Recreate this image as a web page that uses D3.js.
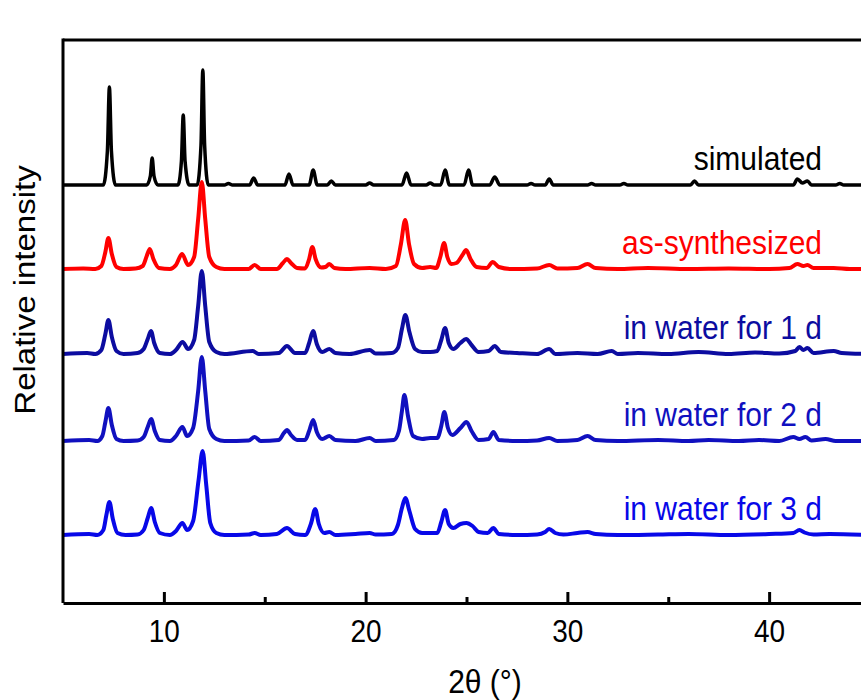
<!DOCTYPE html>
<html>
<head>
<meta charset="utf-8">
<script src="https://cdn.jsdelivr.net/npm/d3@7"></script>
<style>
  body { margin: 0; background: #fff; }
  svg text { font-family: "Liberation Sans", Arial, sans-serif; }
</style>
</head>
<body>
<div id="chart"></div>
<script>
// 2-theta (deg), intensity above each trace's own baseline (arbitrary units)
const simulated = [
  [5.0,0],[6.5,0],[7.0,0],[7.2,34],[7.3,98],[7.4,34],[7.6,0],
  [9.15,0],[9.33,9],[9.42,27],[9.51,9],[9.7,0],
  [10.7,0],[10.87,24],[10.96,70],[11.05,24],[11.25,0],
  [11.65,0],[11.84,40],[11.93,115],[12.02,40],[12.2,0],
  [13.0,0],[13.2,1.5],[13.4,0],[14.25,0],[14.45,7],[14.65,0],
  [16.0,0],[16.2,11],[16.4,0],[17.2,0],[17.4,15],[17.6,0],
  [18.1,0],[18.3,4],[18.5,0],[20.0,0],[20.2,2],[20.4,0],
  [21.8,0],[22.03,12],[22.25,0],[23.0,0],[23.2,2],[23.4,0],
  [23.72,0],[23.94,15],[24.15,0],[24.88,0],[25.1,15],[25.3,0],
  [26.15,0],[26.4,8],[26.65,0],[28.0,0],[28.2,1.5],[28.4,0],
  [28.9,0],[29.1,6],[29.3,0],[31.0,0],[31.2,1.5],[31.4,0],
  [32.6,0],[32.8,1.5],[33.0,0],[36.1,0],[36.3,4],[36.5,0],
  [41.2,0],[41.4,6],[41.65,2],[41.9,4],[42.1,0],[43.3,0],[43.5,1.5],[43.7,0],[45,0]
];
const asSynthesized = [
  [5.0,0],[6.0,0.5],[6.6,0],[6.9,3],[7.1,17],[7.25,31],[7.42,15],[7.65,2],[8.0,0],
  [8.6,0.5],[8.95,3],[9.15,13],[9.3,20],[9.48,10],[9.75,1],[10.3,0],[10.6,4],[10.9,15],
  [11.2,4],[11.5,12],[11.7,50],[11.88,87],[12.05,50],[12.25,12],[12.6,2],[13.0,0],
  [14.2,0],[14.5,4],[14.8,0],[15.6,0],[15.9,6],[16.1,10],[16.3,6],[16.6,1],[17.0,0.5],
  [17.2,10],[17.36,22],[17.52,10],[17.8,1.5],[18.0,2],[18.2,5],[18.45,1],[19.0,0],
  [20.2,1],[21.0,0],[21.5,3],[21.75,25],[21.96,49],[22.15,25],[22.4,5],[22.8,1],
  [23.2,2],[23.5,1],[23.7,12],[23.89,26],[24.05,12],[24.25,5],[24.5,6],[24.8,14],
  [24.98,19],[25.2,10],[25.5,2],[26.0,1],[26.3,7],[26.6,2],[27.2,0],[28.5,0.5],
  [29.1,4],[29.5,0.5],[30.5,1],[31.0,5],[31.4,1],[32.5,0],[34.0,1],[36.0,0],[38.0,0.5],
  [40.0,0],[41.0,1],[41.4,5],[41.7,3],[41.9,4],[42.2,1],[43.2,1],[44.0,0],[45,0]
];
const water1d = [
  [5.0,0],[6.2,1],[6.6,0],[6.9,4],[7.1,20],[7.25,34],[7.42,17],[7.65,3],[8.0,0],
  [8.7,1],[9.0,5],[9.2,15],[9.36,23],[9.52,11],[9.8,1],[10.3,0],[10.6,4],[10.93,12],
  [11.2,5],[11.5,14],[11.7,48],[11.88,83],[12.05,48],[12.25,12],[12.6,2],[13.0,0],
  [14.4,3],[14.7,0],[15.7,1],[16.1,8],[16.5,1],[17.0,1],[17.2,11],[17.4,23],[17.58,10],
  [17.85,2],[18.2,5],[18.5,1],[19.2,0],[20.2,4],[20.5,0.5],[21.3,1],[21.6,6],[21.8,25],
  [21.97,39],[22.17,22],[22.45,5],[22.8,2],[23.2,2],[23.55,3],[23.75,14],[23.94,26],
  [24.12,11],[24.35,5],[24.7,11],[24.98,15],[25.25,9],[25.6,2],[26.1,3],[26.4,8],
  [26.7,2],[27.5,1],[28.5,0],[29.1,5],[29.4,0],[30.5,1],[31.5,0],[32.2,3],[32.5,0],
  [33.5,1],[35.0,0],[36.5,2],[38.0,0],[39.3,1.5],[40.5,0.5],[41.3,3],[41.5,7],[41.7,4],
  [41.9,6],[42.2,1],[43.2,3],[43.6,1],[45,0]
];
const water2d = [
  [5.0,0],[6.3,1],[6.7,0],[6.95,5],[7.1,19],[7.25,33],[7.42,16],[7.65,2],[8.0,0],
  [8.7,0.5],[9.0,4],[9.2,14],[9.37,22],[9.55,10],[9.8,1],[10.3,0],[10.6,5],[10.92,14],
  [11.15,5],[11.45,13],[11.7,50],[11.88,84],[12.05,50],[12.25,12],[12.6,2],[13.0,0],
  [14.2,0.5],[14.5,4],[14.8,0],[15.7,1],[15.95,8],[16.1,11],[16.3,6],[16.6,1],[17.0,1],
  [17.2,10],[17.4,21],[17.58,9],[17.85,2],[18.2,5],[18.5,1],[19.5,0],[20.2,3],[20.5,0],
  [21.4,1],[21.65,10],[21.8,30],[21.92,46],[22.1,25],[22.35,5],[22.8,2],[23.2,3],
  [23.55,3],[23.75,15],[23.9,29],[24.08,13],[24.3,6],[24.7,13],[25.0,19],[25.25,10],
  [25.6,1],[26.1,2],[26.33,9],[26.6,1],[27.5,0],[28.5,0.5],[29.1,3],[29.5,0],[30.5,1],
  [31.0,5],[31.4,1],[32.5,0],[34.5,1],[36.0,0],[37.0,1],[38.5,0],[39.5,1],[40.5,0],
  [41.2,4],[41.5,2],[41.8,4],[42.1,0.5],[42.8,2],[43.3,0],[45,0]
];
const water3d = [
  [5.0,0],[6.3,1],[6.7,0],[7.0,5],[7.15,20],[7.3,33],[7.47,16],[7.7,2],[8.1,0],
  [8.7,0.5],[9.0,5],[9.2,17],[9.37,27],[9.55,13],[9.8,2],[10.3,0],[10.6,4],[10.92,12],
  [11.15,5],[11.45,14],[11.72,55],[11.92,84],[12.1,50],[12.3,12],[12.6,2],[13.0,0],
  [14.2,0.5],[14.5,2],[14.8,0],[15.6,1],[16.1,7],[16.5,1],[17.0,0],[17.3,12],[17.5,26],
  [17.68,11],[17.95,2],[18.2,3],[18.5,0],[19.5,1],[20.2,2],[20.5,0.5],[21.3,1],[21.6,10],
  [21.8,27],[21.97,37],[22.17,24],[22.45,6],[22.8,2],[23.2,2],[23.55,2],[23.75,13],
  [23.94,25],[24.12,11],[24.35,7],[24.7,11],[25.0,12],[25.3,9],[25.6,3],[26.05,2],
  [26.33,7],[26.6,1],[27.5,0],[28.5,0.5],[28.9,3],[29.1,6],[29.4,2],[29.8,0.5],[30.5,2],
  [31.0,3],[31.4,1],[32.5,0],[34.5,0.5],[36.0,1],[38.0,0],[40.0,1],[41.2,2],[41.5,5],
  [41.75,2.5],[42.2,0.5],[43.0,1],[45,0]
];

const seriesData = [simulated, asSynthesized, water1d, water2d, water3d];
const seriesNames = ['simulated', 'as-synthesized', 'in water for 1 d', 'in water for 2 d', 'in water for 3 d'];
const seriesColors = ['#000000', '#ff0000', '#0c0ca0', '#1010bf', '#0808e8'];
// vertical stacking offset of each trace
const offsets = [418, 334, 249, 162, 68];
const majorTicks = [10, 20, 30, 40];
const minorTicks = [15, 25, 35];

const margin = { top: 40, left: 63 };
const plotW = 807, plotH = 563;

const svg = d3.select('#chart').append('svg')
    .attr('width', 861)
    .attr('height', 700);

const x = d3.scaleLinear().domain([5, 45]).range([margin.left, margin.left + plotW]);
const y = d3.scaleLinear().domain([0, 563]).range([margin.top + plotH, margin.top]);

const line = d3.line()
    .x(d => x(d[0]))
    .y(d => y(d[1]))
    .curve(d3.curveMonotoneX);

// traces
seriesData.forEach((s, i) => {
    svg.append('path')
        .datum(s.map(d => [d[0], d[1] + offsets[i]]))
        .attr('fill', 'none')
        .attr('stroke', seriesColors[i])
        .attr('stroke-width', i === 0 ? 3.5 : 4)
        .attr('stroke-linejoin', 'round')
        .attr('d', line);
});

// trace labels (text in the original is slightly tall, hence the scale)
seriesNames.forEach((n, i) => {
    svg.append('text')
        .attr('transform', 'translate(822,' + (y(offsets[i]) - 15) + ') scale(1,1.1)')
        .attr('text-anchor', 'end')
        .attr('fill', seriesColors[i])
        .style('font-size', '30px')
        .text(n);
});

// frame
svg.append('line')
    .attr('x1', x(5)).attr('x2', x(45))
    .attr('y1', margin.top).attr('y2', margin.top)
    .attr('stroke', '#000').attr('stroke-width', 3);
svg.append('line')
    .attr('x1', x(5)).attr('x2', x(5))
    .attr('y1', margin.top - 1.5).attr('y2', margin.top + plotH)
    .attr('stroke', '#000').attr('stroke-width', 3);

// x axis, ticks pointing inward
const xAxis = svg.append('g')
    .attr('transform', 'translate(0,' + (margin.top + plotH) + ')')
    .call(d3.axisBottom(x).tickValues(majorTicks).tickSizeInner(-11).tickSizeOuter(0).tickPadding(15));
xAxis.select('.domain').attr('stroke-width', 3);
xAxis.selectAll('.tick line').attr('stroke-width', 3);
xAxis.selectAll('.tick text')
    .style('font-size', '28px')
    .attr('transform', 'scale(1,1.12)')
    .attr('fill', '#000');

const xMinor = svg.append('g')
    .attr('transform', 'translate(0,' + (margin.top + plotH) + ')')
    .call(d3.axisBottom(x).tickValues(minorTicks).tickSizeInner(-6).tickSizeOuter(0).tickFormat(''));
xMinor.select('.domain').remove();
xMinor.selectAll('.tick line').attr('stroke-width', 3);

// axis titles
svg.append('text')
    .attr('transform', 'translate(485,693) scale(1,1.12)')
    .attr('text-anchor', 'middle')
    .style('font-size', '30px')
    .text('2θ (°)');
svg.append('text')
    .attr('transform', 'translate(35,290) rotate(-90) scale(1.1,1)')
    .attr('text-anchor', 'middle')
    .style('font-size', '30px')
    .text('Relative intensity');
</script>
</body>
</html>
